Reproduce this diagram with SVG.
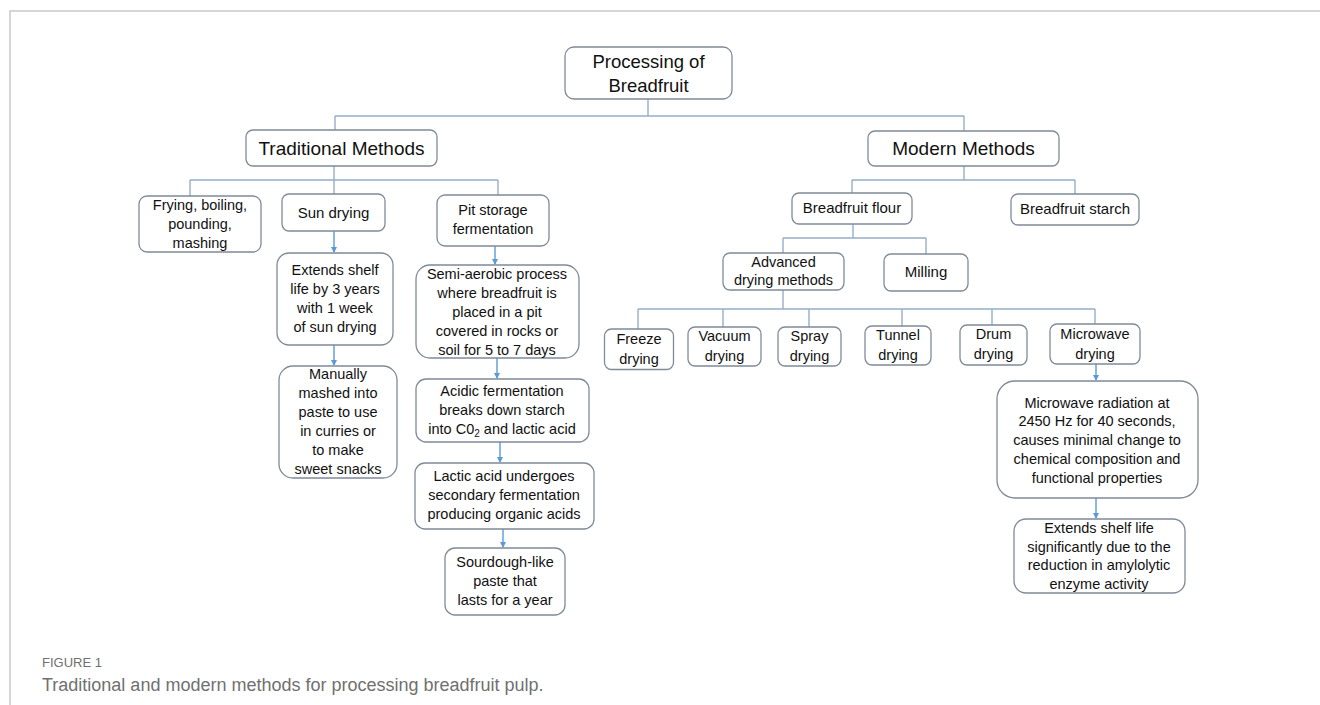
<svg xmlns="http://www.w3.org/2000/svg" width="1320" height="705" viewBox="0 0 1320 705">
<defs>
<style>
.box{fill:#fff;stroke:#7f8b98;stroke-width:1.3}
.t{font-family:"Liberation Sans",Arial,sans-serif;font-size:14.5px;fill:#111;text-anchor:middle}
.m{font-size:15px}
.b{font-size:19px}
.r{font-size:18.5px}
.ln{fill:none;stroke:#95afc8;stroke-width:1.4}
.ar{fill:none;stroke:#5b9bd5;stroke-width:1.4;marker-end:url(#ah)}
.cap{font-family:"Liberation Sans",Arial,sans-serif;fill:#707070}
</style>
<marker id="ah" markerWidth="6" markerHeight="6" refX="5" refY="3" orient="auto" markerUnits="userSpaceOnUse">
<path d="M0,0 L6,3 L0,6 Z" fill="#5b9bd5"/>
</marker>
</defs>
<rect width="1320" height="705" fill="#fff"/>
<path d="M10,705 V11 H1320" fill="none" stroke="#c9c9c9" stroke-width="1.5"/>

<g id="connectors">
<path class="ln" d="M648,99 V116 M335,116 H964 M335,116 V130 M964,116 V131"/>
<path class="ln" d="M334,166 V194 M190,180 H498 M190,180 V196 M498,180 V195"/>
<path class="ln" d="M964,166 V180 M852,180 H1075 M852,180 V193 M1075,180 V194"/>
<path class="ln" d="M853,224 V238 M783,238 H926 M783,238 V253 M926,238 V254"/>
<path class="ln" d="M783,290 V309 M638,309 H1095 M638,309 V329 M723,309 V327 M809,309 V327 M902,309 V326 M992,309 V325 M1095,309 V324"/>
<path class="ar" d="M334,231 V252"/>
<path class="ar" d="M334,345 V365"/>
<path class="ar" d="M495,246 V264"/>
<path class="ar" d="M497,358 V378"/>
<path class="ar" d="M500,442 V462"/>
<path class="ar" d="M503,529 V547"/>
<path class="ar" d="M1096,364 V380"/>
<path class="ar" d="M1096,498 V518"/>
</g>

<g id="root"><rect class="box" x="565" y="47" width="167" height="52" rx="9"/>
<text class="t r" x="648.5" y="68">Processing of</text><text class="t r" x="648.5" y="92">Breadfruit</text></g>

<g id="traditional"><rect class="box" x="246" y="130" width="191" height="36" rx="7"/>
<text class="t b" x="341.5" y="155">Traditional Methods</text></g>

<g id="modern"><rect class="box" x="868" y="131" width="191" height="35" rx="7"/>
<text class="t b" x="963.5" y="155">Modern Methods</text></g>

<g id="frying"><rect class="box" x="139" y="196" width="122" height="56" rx="8"/>
<text class="t" x="200" y="210">Frying, boiling,</text><text class="t" x="200" y="229">pounding,</text><text class="t" x="200" y="248">mashing</text></g>

<g id="sun-drying"><rect class="box" x="282" y="194" width="103" height="37" rx="7"/>
<text class="t m" x="333.5" y="218">Sun drying</text></g>

<g id="pit-storage"><rect class="box" x="437" y="195" width="112" height="51" rx="8"/>
<text class="t" x="493" y="215">Pit storage</text><text class="t" x="493" y="234">fermentation</text></g>

<g id="sun-extends"><rect class="box" x="277" y="253" width="116" height="92" rx="12"/>
<text class="t" x="335" y="275">Extends shelf</text><text class="t" x="335" y="294">life by 3 years</text><text class="t" x="335" y="313">with 1 week</text><text class="t" x="335" y="332">of sun drying</text></g>

<g id="manually"><rect class="box" x="279" y="366" width="118" height="112" rx="14"/>
<text class="t" x="338" y="379">Manually</text><text class="t" x="338" y="398">mashed into</text><text class="t" x="338" y="417">paste to use</text><text class="t" x="338" y="436">in curries or</text><text class="t" x="338" y="455">to make</text><text class="t" x="338" y="474">sweet snacks</text></g>

<g id="semi-aerobic"><rect class="box" x="416" y="265" width="163" height="93" rx="14"/>
<text class="t" x="497" y="279">Semi-aerobic process</text><text class="t" x="497" y="298">where breadfruit is</text><text class="t" x="497" y="317">placed in a pit</text><text class="t" x="497" y="336">covered in rocks or</text><text class="t" x="497" y="355">soil for 5 to 7 days</text></g>

<g id="acidic"><rect class="box" x="416" y="379" width="173" height="63" rx="10"/>
<text class="t" x="502" y="396">Acidic fermentation</text><text class="t" x="502" y="415">breaks down starch</text><text class="t" x="502" y="434">into C0<tspan font-size="10px" dy="3">2</tspan><tspan dy="-3"> and lactic acid</tspan></text></g>

<g id="lactic"><rect class="box" x="415" y="463" width="179" height="66" rx="10"/>
<text class="t" x="504" y="481">Lactic acid undergoes</text><text class="t" x="504" y="500">secondary fermentation</text><text class="t" x="504" y="519">producing organic acids</text></g>

<g id="sourdough"><rect class="box" x="445" y="548" width="120" height="67" rx="10"/>
<text class="t" x="505" y="567">Sourdough-like</text><text class="t" x="505" y="586">paste that</text><text class="t" x="505" y="605">lasts for a year</text></g>

<g id="flour"><rect class="box" x="792" y="193" width="120" height="31" rx="7"/>
<text class="t m" x="852" y="213">Breadfruit flour</text></g>

<g id="starch"><rect class="box" x="1011" y="194" width="128" height="31" rx="7"/>
<text class="t m" x="1075" y="214">Breadfruit starch</text></g>

<g id="advanced"><rect class="box" x="723" y="253" width="121" height="37" rx="7"/>
<text class="t" x="783.5" y="267">Advanced</text><text class="t" x="783.5" y="285">drying methods</text></g>

<g id="milling"><rect class="box" x="884" y="254" width="84" height="37" rx="7"/>
<text class="t m" x="926" y="277">Milling</text></g>

<g id="freeze"><rect class="box" x="604.5" y="329" width="69" height="40.5" rx="7"/>
<text class="t" x="639" y="344">Freeze</text><text class="t" x="639" y="364">drying</text></g>

<g id="vacuum"><rect class="box" x="688" y="327" width="73" height="39" rx="7"/>
<text class="t" x="724.5" y="341">Vacuum</text><text class="t" x="724.5" y="361">drying</text></g>

<g id="spray"><rect class="box" x="778" y="327" width="63" height="39" rx="7"/>
<text class="t" x="809.5" y="341">Spray</text><text class="t" x="809.5" y="361">drying</text></g>

<g id="tunnel"><rect class="box" x="865" y="326" width="66" height="39" rx="7"/>
<text class="t" x="898" y="340">Tunnel</text><text class="t" x="898" y="360">drying</text></g>

<g id="drum"><rect class="box" x="960" y="325" width="67" height="40" rx="7"/>
<text class="t" x="993.5" y="339">Drum</text><text class="t" x="993.5" y="359">drying</text></g>

<g id="microwave"><rect class="box" x="1050" y="324" width="90" height="40" rx="7"/>
<text class="t" x="1095" y="339">Microwave</text><text class="t" x="1095" y="359">drying</text></g>

<g id="microwave-radiation"><rect class="box" x="997" y="381" width="201" height="117" rx="18"/>
<text class="t" x="1097" y="408">Microwave radiation at</text><text class="t" x="1097" y="426">2450 Hz for 40 seconds,</text><text class="t" x="1097" y="445">causes minimal change to</text><text class="t" x="1097" y="464">chemical composition and</text><text class="t" x="1097" y="483">functional properties</text></g>

<g id="extends-significantly"><rect class="box" x="1014" y="519" width="171" height="74" rx="12"/>
<text class="t" x="1099" y="533">Extends shelf life</text><text class="t" x="1099" y="552">significantly due to the</text><text class="t" x="1099" y="570">reduction in amylolytic</text><text class="t" x="1099" y="589">enzyme activity</text></g>

<text class="cap" x="42" y="667" font-size="13px">FIGURE 1</text>
<text class="cap" x="42" y="691" font-size="18px">Traditional and modern methods for processing breadfruit pulp.</text>
</svg>
